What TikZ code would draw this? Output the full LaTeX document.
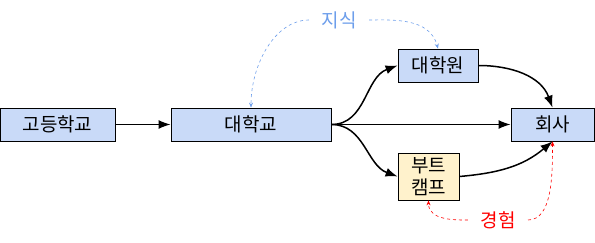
\documentclass[tikz,border=0pt]{standalone}
\usepackage{fontspec}
\setmainfont{Noto Sans CJK KR}
\usetikzlibrary{arrows.meta}
\definecolor{boxblue}{HTML}{C9DAF8}
\definecolor{boxyellow}{HTML}{FFF2CC}
\definecolor{noteblue}{HTML}{6D9EEB}
\begin{document}
\begin{tikzpicture}[x=1pt, y=-1pt, every node/.style={font=\fontsize{19}{22}\selectfont},
  stage/.style={draw=black, line width=0.8pt, fill=boxblue, minimum height=33pt, inner sep=0pt},
  flow/.style={-{Latex[length=12pt,width=9pt]}, line width=1.5pt},
  note/.style={dashed, -{Stealth[length=5pt,width=4pt]}, line width=0.6pt, shorten <=9pt}]
\useasboundingbox (0,0) rectangle (595,243);
% stages
\node[stage, minimum width=115pt] (school) at (57.5,124.5) {고등학교};
\node[stage, minimum width=160pt] (univ) at (251,124.5) {대학교};
\node[stage, minimum width=80pt] (grad) at (438,65.5) {대학원};
\node[stage, minimum width=83pt] (company) at (552.5,124.5) {회사};
\node[stage, fill=boxyellow, minimum width=61pt, minimum height=47pt, align=center] (camp) at (428.5,176.5) {부트\\캠프};
% notes
\node[text=noteblue] (know) at (339,20) {지식};
\node[text=red] (exp) at (498,220) {경험};
% paths
\draw[flow] (school) -- (univ);
\draw[flow] (univ.east) -- (company.west);
\draw[flow] (univ.east) to[out=0,in=200] (grad.west);
\draw[flow] (univ.east) to[out=0,in=160] (camp.west);
\draw[flow] (grad.east) to[out=0,in=110] (company.north);
\draw[flow] (camp.east) to[out=5,in=-140] (company.south);
\draw[note, noteblue] (know.west) to[out=180,in=90] (univ.north);
\draw[note, noteblue] (know.east) to[out=0,in=105] (grad.north);
\draw[note, red] (exp.west) to[out=180,in=-90] (camp.south);
\draw[note, red] (exp.east) to[out=0,in=-90] (company.south);
\end{tikzpicture}
\end{document}
